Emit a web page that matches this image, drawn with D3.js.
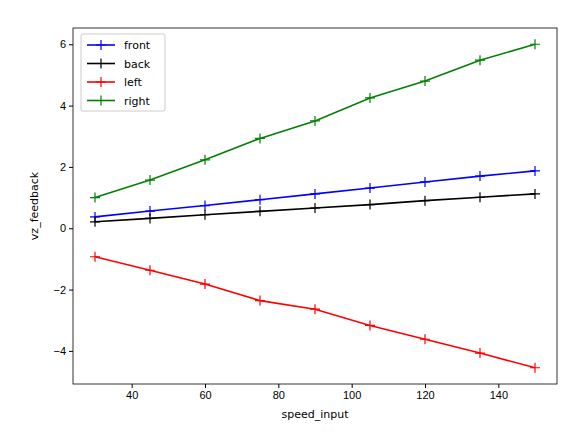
<!DOCTYPE html>
<html><head><meta charset="utf-8">
<script src="https://cdn.jsdelivr.net/npm/d3@7"></script>
<style>body{margin:0;background:#fff;font-family:"DejaVu Sans",sans-serif;}</style>
</head><body><svg id="chart" width="582" height="442"></svg>
<script>
var speeds = [30, 45, 60, 75, 90, 105, 120, 135, 150];
var front = [0.37, 0.56, 0.74, 0.93, 1.12, 1.31, 1.51, 1.70, 1.87];
var back = [0.21, 0.32, 0.44, 0.55, 0.66, 0.77, 0.90, 1.01, 1.12];
var left = [-0.93, -1.37, -1.82, -2.36, -2.64, -3.17, -3.62, -4.07, -4.55];
var right = [1.0, 1.57, 2.23, 2.93, 3.5, 4.25, 4.8, 5.48, 6.0];
var seriesNames = ["front", "back", "left", "right"];
var seriesColors = ["#0000ff", "#000000", "#ff0000", "#008000"];
var xTicks = [40, 60, 80, 100, 120, 140];
var yTicks = [-4, -2, 0, 2, 4, 6];

var svg = d3.select("#chart");
var m = {l: 73, r: 557, t: 28, b: 384};
var x = d3.scaleLinear().domain([24, 156]).range([m.l, m.r]);
var y = d3.scaleLinear().domain([-5.08, 6.53]).range([m.b, m.t]);

// axes
svg.append("g").attr("transform", "translate(0," + m.b + ")")
    .call(d3.axisBottom(x).tickValues(xTicks).tickSize(4).tickSizeOuter(0))
    .call(function(g){ g.select(".domain").remove(); g.selectAll("text").attr("font-size", 11).attr("fill", "#000"); });
svg.append("g").attr("transform", "translate(" + m.l + ",0)")
    .call(d3.axisLeft(y).tickValues(yTicks).tickSize(4).tickSizeOuter(0).tickFormat(function(d){ return d < 0 ? "\u2212" + (-d) : d; }))
    .call(function(g){ g.select(".domain").remove(); g.selectAll("text").attr("font-size", 11).attr("fill", "#000"); });

svg.append("rect").attr("x", m.l).attr("y", m.t).attr("width", m.r - m.l).attr("height", m.b - m.t)
    .attr("fill", "none").attr("stroke", "#000").attr("stroke-width", 0.8);

svg.append("text").attr("x", (m.l + m.r) / 2).attr("y", 418).attr("text-anchor", "middle")
    .attr("font-size", 11).text("speed_input");
svg.append("text").attr("transform", "translate(38," + ((m.t + m.b) / 2) + ") rotate(-90)")
    .attr("text-anchor", "middle").attr("font-size", 11).text("vz_feedback");

// lines
var data = [front, back, left, right];
var line = d3.line().x(function(d, i){ return x(speeds[i]); }).y(function(d){ return y(d); });
function plus(g, cx, cy, c){
    g.append("path").attr("d", "M" + (cx - 5) + "," + cy + "h10M" + cx + "," + (cy - 5) + "v10")
        .attr("stroke", c).attr("stroke-width", 1.2);
}
data.forEach(function(vals, k){
    var g = svg.append("g");
    g.append("path").datum(vals).attr("d", line).attr("fill", "none")
        .attr("stroke", seriesColors[k]).attr("stroke-width", 1.6);
    vals.forEach(function(v, i){ plus(g, x(speeds[i]), y(v), seriesColors[k]); });
});

// legend
var lg = svg.append("g").attr("transform", "translate(81,34)");
lg.append("rect").attr("width", 84).attr("height", 77).attr("rx", 2)
    .attr("fill", "#fff").attr("stroke", "#ccc");
seriesNames.forEach(function(n, k){
    var yy = 11 + k * 18.5;
    lg.append("line").attr("x1", 6).attr("x2", 34).attr("y1", yy).attr("y2", yy)
        .attr("stroke", seriesColors[k]).attr("stroke-width", 1.6);
    plus(lg, 20, yy, seriesColors[k]);
    lg.append("text").attr("x", 43).attr("y", yy + 4).attr("font-size", 11).text(n);
});
</script></body></html>
